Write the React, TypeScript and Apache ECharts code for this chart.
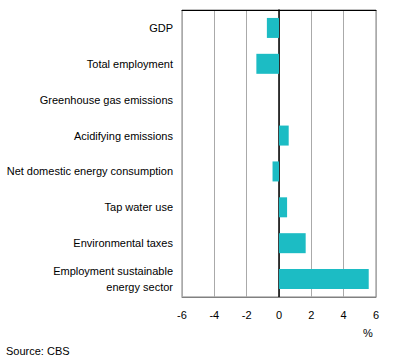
import React, { useEffect, useRef } from "react";
import * as echarts from "echarts";

const categories = [
  "GDP",
  "Total employment",
  "Greenhouse gas emissions",
  "Acidifying emissions",
  "Net domestic energy consumption",
  "Tap water use",
  "Environmental taxes",
  "Employment sustainable\nenergy sector",
];
const values = [-0.75, -1.4, 0, 0.6, -0.4, 0.5, 1.65, 5.55];
const xMin = -6;
const xMax = 6;
const xInterval = 2;
const unitLabel = "%";
const sourceText = "Source: CBS";

export default function App() {
  const ref = useRef<HTMLDivElement>(null);
  useEffect(() => {
    if (!ref.current) return;
    const chart = echarts.init(ref.current, null, { renderer: "svg" });
    const font = "Arial, 'Liberation Sans', sans-serif";
    chart.setOption({
      animation: false,
      textStyle: { fontFamily: font },
      grid: {
        left: 182,
        right: 20,
        top: 10,
        height: 287,
        show: true,
        borderColor: "#808080",
        borderWidth: 1,
      },
      xAxis: [
        {
          type: "value",
          min: xMin,
          max: xMax,
          interval: xInterval,
          position: "bottom",
          axisLine: { show: true, lineStyle: { color: "#808080" } },
          axisTick: { show: false },
          axisLabel: { color: "#000", fontSize: 11, fontFamily: font, margin: 12 },
          splitLine: { show: true, lineStyle: { color: "#aaaaaa", width: 1 } },
        },
        {
          type: "value",
          min: xMin,
          max: xMax,
          interval: xInterval,
          position: "top",
          axisLine: { show: true, lineStyle: { color: "#000" } },
          axisTick: { show: false },
          axisLabel: { show: false },
          splitLine: { show: false },
        },
      ],
      yAxis: {
        type: "category",
        data: categories,
        inverse: true,
        axisLine: { show: true, onZero: true, lineStyle: { color: "#000", width: 1.5 } },
        axisTick: { show: false },
        axisLabel: {
          color: "#000",
          fontSize: 11,
          fontFamily: font,
          margin: 9,
          lineHeight: 16,
          align: "right",
        },
      },
      series: [
        {
          type: "bar",
          data: values,
          xAxisIndex: 0,
          barWidth: 20,
          itemStyle: { color: "#1cbcc4" },
        },
      ],
      graphic: [
        {
          type: "text",
          left: 363,
          top: 327,
          style: { text: unitLabel, fill: "#000", fontSize: 11, fontFamily: font },
        },
        {
          type: "text",
          left: 6,
          top: 345,
          style: { text: sourceText, fill: "#000", fontSize: 11, fontFamily: font },
        },
      ],
    });
    return () => chart.dispose();
  }, []);
  return <div ref={ref} style={{ width: 396, height: 362, position: "absolute", left: 0, top: 0 }} />;
}
